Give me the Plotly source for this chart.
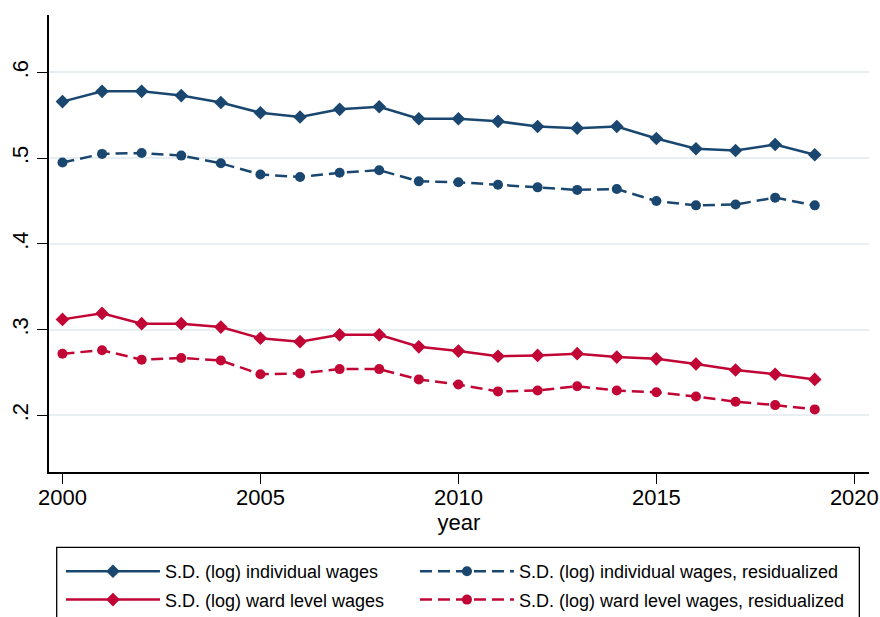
import plotly.graph_objects as go

years = list(range(2000, 2020))
sd_individual = [0.566, 0.578, 0.578, 0.573, 0.565, 0.553, 0.548, 0.557, 0.560, 0.546,
                 0.546, 0.543, 0.537, 0.535, 0.537, 0.523, 0.511, 0.509, 0.516, 0.504]
sd_individual_resid = [0.495, 0.505, 0.506, 0.503, 0.494, 0.481, 0.478, 0.483, 0.486, 0.473,
                       0.472, 0.469, 0.466, 0.463, 0.464, 0.450, 0.445, 0.446, 0.454, 0.445]
sd_ward = [0.312, 0.319, 0.307, 0.307, 0.303, 0.290, 0.286, 0.294, 0.294, 0.280,
           0.275, 0.269, 0.270, 0.272, 0.268, 0.266, 0.260, 0.253, 0.248, 0.242]
sd_ward_resid = [0.272, 0.276, 0.265, 0.267, 0.264, 0.248, 0.249, 0.254, 0.254, 0.242,
                 0.236, 0.228, 0.229, 0.234, 0.229, 0.227, 0.222, 0.216, 0.212, 0.207]

names = ["S.D. (log) individual wages", "S.D. (log) individual wages, residualized",
         "S.D. (log) ward level wages", "S.D. (log) ward level wages, residualized"]
x_ticks = [2000, 2005, 2010, 2015, 2020]
y_ticks = [0.2, 0.3, 0.4, 0.5, 0.6]
y_tick_labels = [".2", ".3", ".4", ".5", ".6"]

BLUE = "#1a476f"
RED = "#c10534"
FONT = "Liberation Sans, Arial, sans-serif"
DASH = "12px,6px"

fig = go.Figure()
series = [
    (sd_individual, names[0], BLUE, "solid", "diamond", 10.5, "legend"),
    (sd_individual_resid, names[1], BLUE, DASH, "circle", 10, "legend2"),
    (sd_ward, names[2], RED, "solid", "diamond", 10.5, "legend"),
    (sd_ward_resid, names[3], RED, DASH, "circle", 10, "legend2"),
]
for i, (vals, nm, col, dash, sym, sz, lg) in enumerate(series):
    fig.add_trace(go.Scatter(
        x=years, y=vals, name=nm, mode="lines+markers",
        line=dict(color=col, width=2.5, dash=dash),
        marker=dict(color=col, symbol=sym, size=sz),
        legend=lg, legendgroup=f"g{i}",
    ))

leg_common = dict(
    orientation="v", yref="container", yanchor="top", y=0.1037, xanchor="left",
    itemwidth=94, bgcolor="rgba(0,0,0,0)", borderwidth=0,
    font=dict(size=18, family=FONT, color="black"),
    tracegroupgap=2, traceorder="grouped",
)

fig.update_layout(
    width=880, height=617,
    margin=dict(l=49, r=11, t=15, b=145),
    paper_bgcolor="white", plot_bgcolor="white",
    font=dict(family=FONT, color="black"),
    showlegend=True,
    legend=dict(x=0.0146, **leg_common),
    legend2=dict(x=0.4463, **leg_common),
    shapes=[dict(type="rect", xref="paper", yref="paper",
                 x0=0.0094, x1=0.9882, y0=-0.1648, y1=-0.36,
                 line=dict(color="black", width=1.3), fillcolor="rgba(0,0,0,0)",
                 layer="below")],
)
fig.update_xaxes(
    range=[1999.66, 2020.37], tickvals=x_ticks, showgrid=False,
    showline=True, linecolor="black", linewidth=1.5,
    ticks="outside", ticklen=10, tickcolor="black", tickwidth=1.2,
    tickfont=dict(size=22), ticklabelstandoff=-5, ticklabeloverflow="allow",
    title=dict(text="year", font=dict(size=22), standoff=0),
    zeroline=False, automargin=False,
)
fig.update_yaxes(
    range=[0.134, 0.667], tickvals=y_ticks, ticktext=y_tick_labels, tickangle=-90,
    showgrid=True, gridcolor="#e8eff2", gridwidth=1.8,
    showline=True, linecolor="black", linewidth=1.5,
    ticks="outside", ticklen=10, tickcolor="black", tickwidth=1.2,
    tickfont=dict(size=22), zeroline=False, automargin=False,
)
fig.write_html("out.html")
